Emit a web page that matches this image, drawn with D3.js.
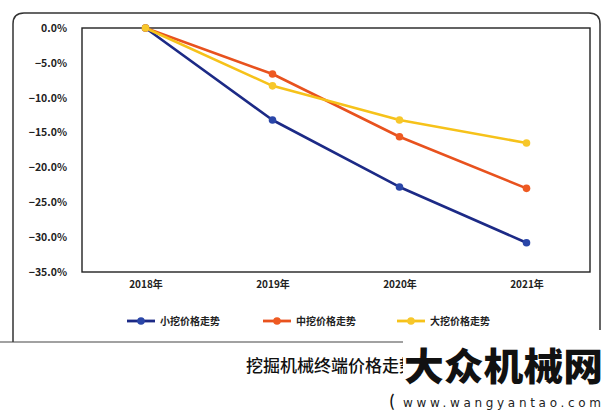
<!DOCTYPE html>
<html><head><meta charset="utf-8">
<script src="https://cdn.jsdelivr.net/npm/d3@7"></script>
<style>body{margin:0;background:#fff}svg{display:block}</style>
</head><body><svg id="c" width="609" height="414"></svg>
<script>
const years = ["2018年","2019年","2020年","2021年"];
const seriesNames = ["小挖价格走势","中挖价格走势","大挖价格走势"];
const small = [0, -13.2, -22.8, -30.8];
const medium = [0, -6.6, -15.6, -23.0];
const large = [0, -8.3, -13.2, -16.5];
const yTicks = [0, -5, -10, -15, -20, -25, -30, -35];
const colors = ["#1c2a86", "#e8521e", "#f6c21a"];
const dotColors = ["#2a46a8", "#ee5a22", "#f7c72a"];
const seriesData = [small, medium, large];

const svg = d3.select("#c");
const font = "'Noto Sans CJK SC','Noto Sans',sans-serif";
const L = 82, R = 590, T = 28, B = 272;

// outer frame
svg.append("path")
  .attr("d", `M13,342 L13,24 Q13,13 24,13 L589,13 Q600,13 600,24 L600,330 Q600,340 592,341`)
  .attr("fill","none").attr("stroke","#333").attr("stroke-width",1.5);
svg.append("line").attr("x1",0).attr("x2",600).attr("y1",342).attr("y2",342)
  .attr("stroke","#444").attr("stroke-width",1.2);

const x = d3.scalePoint().domain(years).range([L, R]).padding(0.5);
const y = d3.scaleLinear().domain([-35, 0]).range([B, T]);

// plot box
svg.append("rect").attr("x",L).attr("y",T).attr("width",R-L).attr("height",B-T)
  .attr("fill","none").attr("stroke","#222").attr("stroke-width",1.4);

// y axis labels
const yAxis = d3.axisLeft(y).tickValues(yTicks).tickSize(0).tickPadding(15)
  .tickFormat(d => d3.format(".1f")(d) + "%");
const gy = svg.append("g").attr("transform",`translate(${L},0)`).call(yAxis);
gy.select(".domain").remove();
gy.selectAll("text").attr("font-family",font).attr("font-size",10.5).attr("font-weight",700).attr("fill","#222");

// x axis labels
const xAxis = d3.axisBottom(x).tickSize(0).tickPadding(9);
const gx = svg.append("g").attr("transform",`translate(0,${B})`).call(xAxis);
gx.select(".domain").remove();
gx.selectAll("text").attr("font-family",font).attr("font-size",10).attr("font-weight",700).attr("fill","#222");

// lines
const line = d3.line().x((d,i)=>x(years[i])).y(d=>y(d));
seriesData.forEach((s,k)=>{
  svg.append("path").datum(s).attr("d",line).attr("fill","none")
    .attr("stroke",colors[k]).attr("stroke-width",2.6).attr("stroke-linejoin","round");
});
seriesData.forEach((s,k)=>{
  svg.append("g").selectAll("circle").data(s).join("circle")
    .attr("cx",(d,i)=>x(years[i])).attr("cy",d=>y(d)).attr("r",3.8).attr("fill",dotColors[k]);
});

// legend
const legX = [127, 263, 397];
seriesNames.forEach((n,k)=>{
  const g = svg.append("g").attr("transform",`translate(${legX[k]},321)`);
  g.append("line").attr("x1",0).attr("x2",28).attr("stroke",colors[k]).attr("stroke-width",2.8);
  g.append("circle").attr("cx",14).attr("r",3.8).attr("fill",dotColors[k]);
  g.append("text").attr("x",33).attr("y",4).text(n).attr("font-family",font)
    .attr("font-size",10).attr("font-weight",700).attr("fill","#222");
});

// title
svg.append("text").attr("x",246).attr("y",372).text("挖掘机械终端价格走势")
  .attr("font-family",font).attr("font-size",17).attr("font-weight",500).attr("fill","#111");
svg.append("text").attr("x",389).attr("y",407).text("(")
  .attr("font-family",font).attr("font-size",16).attr("font-weight",500).attr("fill","#111");

// watermark
svg.append("rect").attr("x",403).attr("y",330).attr("width",206).attr("height",62).attr("fill","#fff");
svg.append("text").attr("x",404).attr("y",380).text("大众机械网")
  .attr("font-family","'Noto Sans CJK SC',sans-serif").attr("font-size",38).attr("font-weight",900)
  .attr("fill","#111").attr("textLength",199).attr("lengthAdjust","spacingAndGlyphs");
svg.append("text").attr("x",403).attr("y",407).text("www.wangyantao.com")
  .attr("font-family","'DejaVu Sans',sans-serif").attr("font-size",12)
  .attr("fill","#222").attr("textLength",198).attr("lengthAdjust","spacing");
</script></body></html>
